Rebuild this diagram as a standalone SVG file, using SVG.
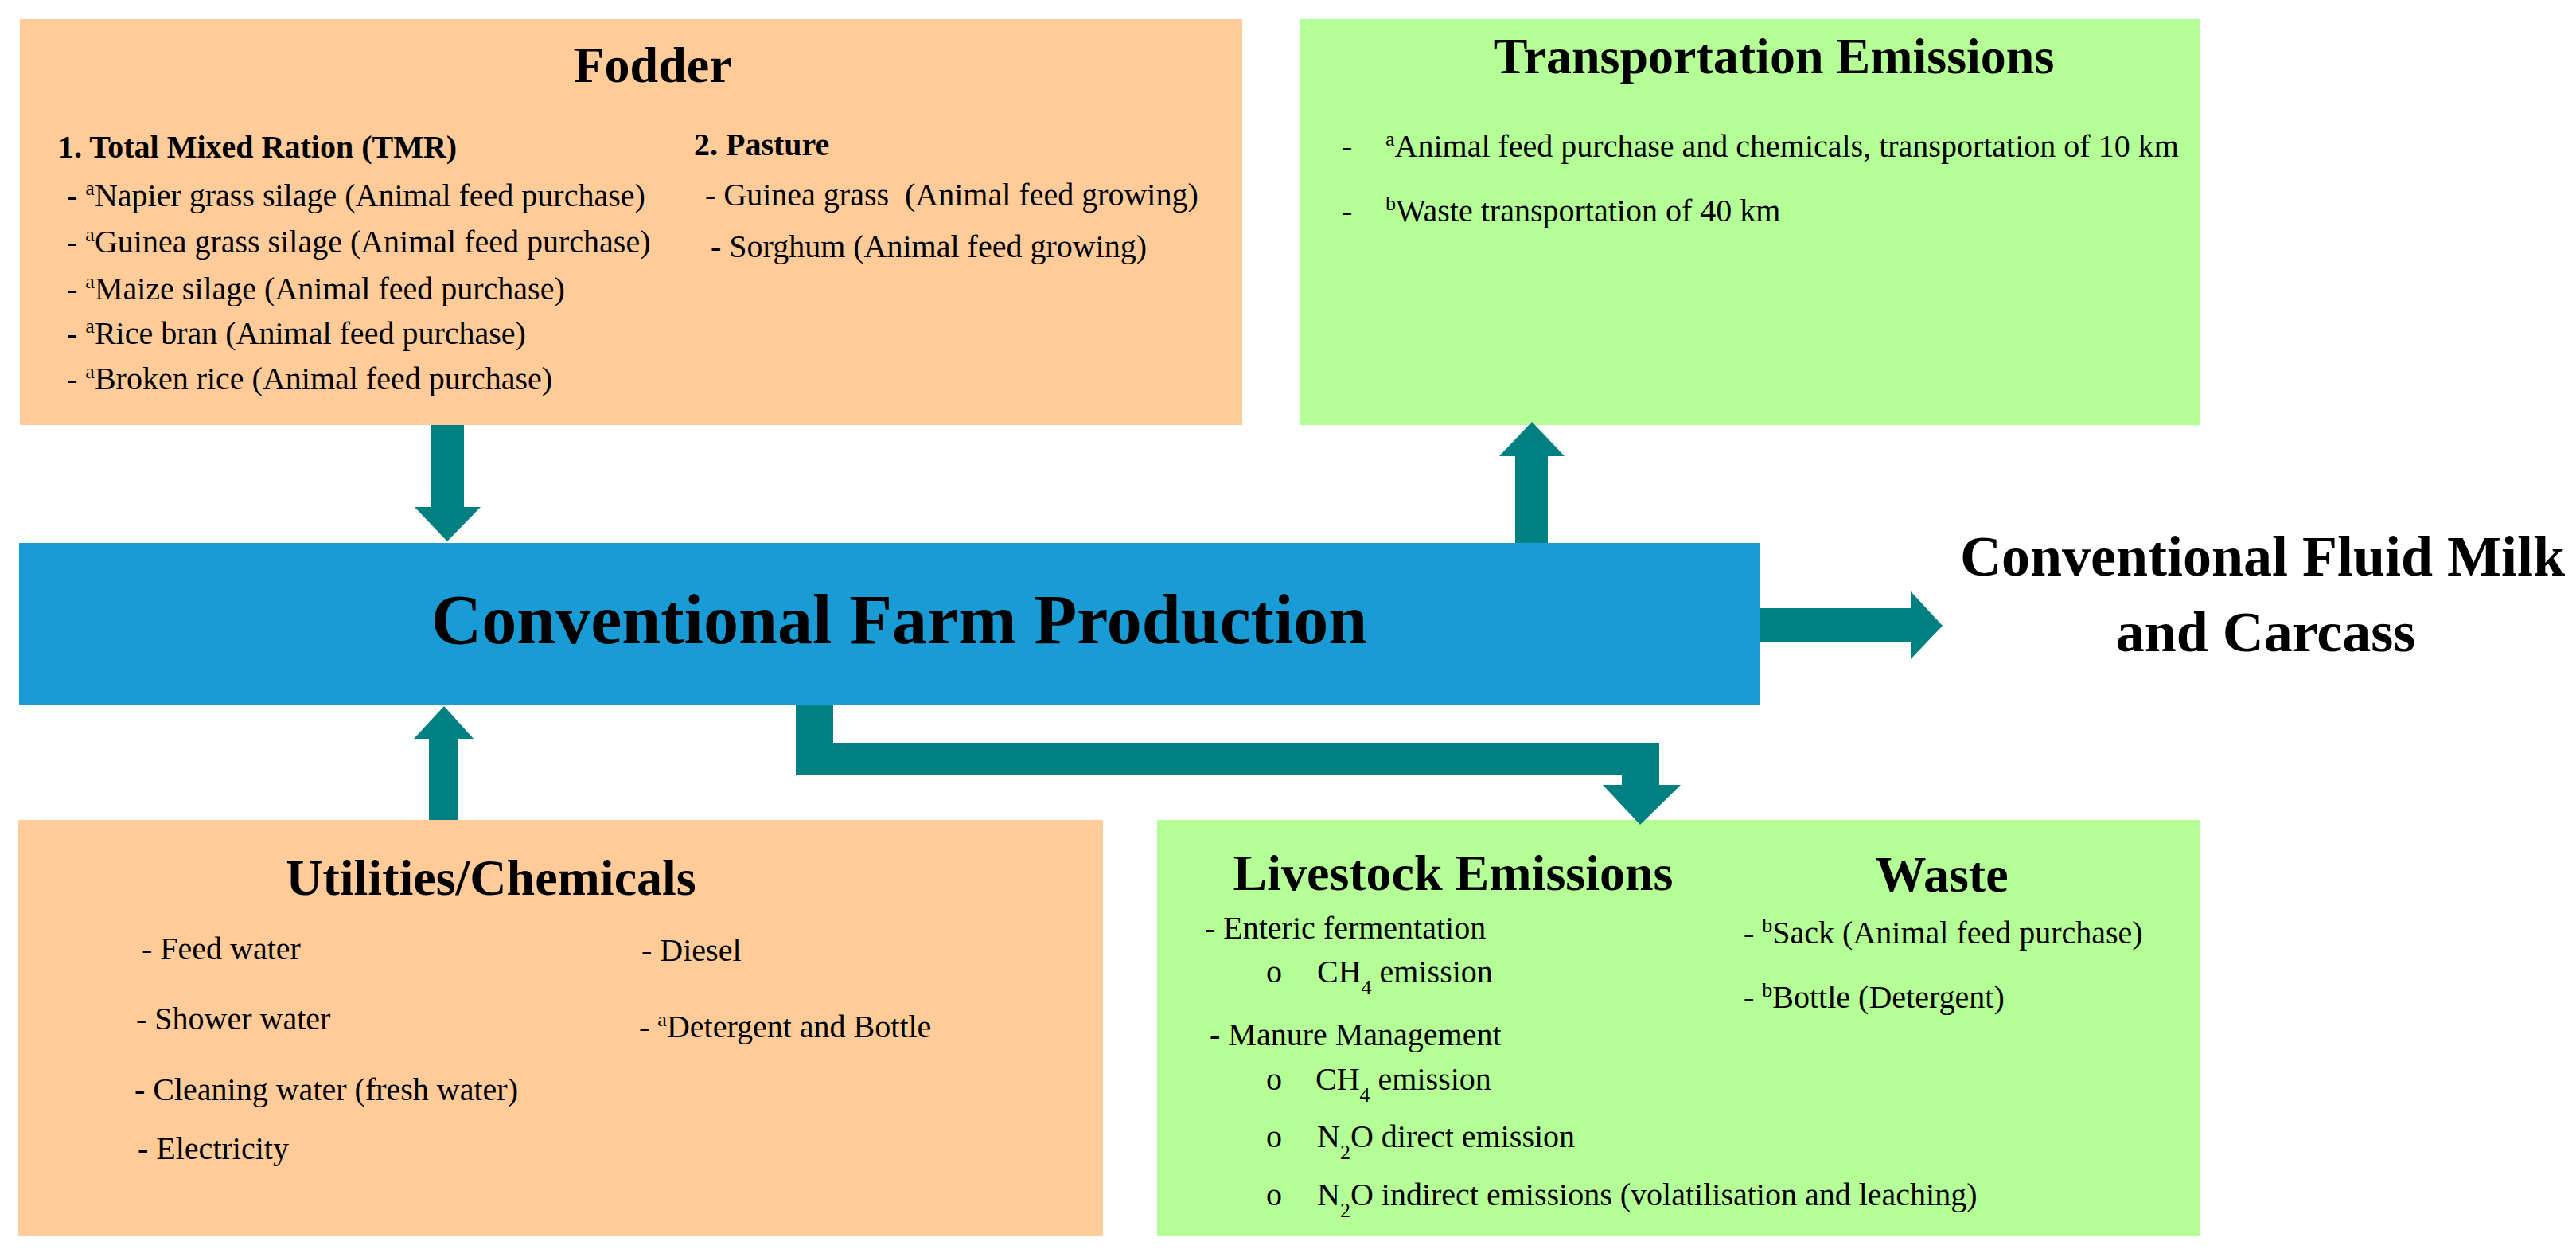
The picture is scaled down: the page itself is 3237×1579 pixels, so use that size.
<svg xmlns="http://www.w3.org/2000/svg" width="3237" height="1579" viewBox="0 0 3237 1579">
<style>
text{font-family:"Liberation Serif","Times New Roman",serif;fill:#000}
.t{font-weight:bold;font-size:64px;text-anchor:middle}
.h{font-weight:bold;font-size:40px}
.i{font-size:40px}
.orange{fill:#FFCC99}
.green{fill:#B4FF96}
.arr{fill:#008080}
</style>
<rect width="3237" height="1579" fill="#fff"/>
<g id="fodder">
<rect class="orange" x="25" y="24" width="1536" height="510"/>
<text class="t" x="820" y="103">Fodder</text>
<text class="h" x="73" y="198">1. Total Mixed Ration (TMR)</text>
<text class="i" x="84" y="259">- <tspan font-size="26" baseline-shift="super">a</tspan>Napier grass silage (Animal feed purchase)</text>
<text class="i" x="84" y="317">- <tspan font-size="26" baseline-shift="super">a</tspan>Guinea grass silage (Animal feed purchase)</text>
<text class="i" x="84" y="376">- <tspan font-size="26" baseline-shift="super">a</tspan>Maize silage (Animal feed purchase)</text>
<text class="i" x="84" y="432">- <tspan font-size="26" baseline-shift="super">a</tspan>Rice bran (Animal feed purchase)</text>
<text class="i" x="84" y="489">- <tspan font-size="26" baseline-shift="super">a</tspan>Broken rice (Animal feed purchase)</text>
<text class="h" x="872" y="195">2. Pasture</text>
<text class="i" x="886" y="258" xml:space="preserve">- Guinea grass  (Animal feed growing)</text>
<text class="i" x="893" y="323">- Sorghum (Animal feed growing)</text>
</g>
<g id="transportation">
<rect class="green" x="1634" y="24" width="1130" height="510"/>
<text class="t" x="2229" y="92">Transportation Emissions</text>
<text class="i" x="1686" y="197">-</text>
<text class="i" x="1741" y="197"><tspan font-size="26" baseline-shift="super">a</tspan>Animal feed purchase and chemicals, transportation of 10 km</text>
<text class="i" x="1686" y="278">-</text>
<text class="i" x="1741" y="278"><tspan font-size="26" baseline-shift="super">b</tspan>Waste transportation of 40 km</text>
</g>
<g id="production">
<rect fill="#199CD6" x="24" y="682" width="2187" height="204"/>
<text x="1130" y="808" font-weight="bold" font-size="88" text-anchor="middle">Conventional Farm Production</text>
</g>
<g id="output">
<text x="2843" y="723" font-weight="bold" font-size="72" text-anchor="middle">Conventional Fluid Milk</text>
<text x="2847" y="818" font-weight="bold" font-size="72" text-anchor="middle">and Carcass</text>
</g>
<g id="utilities">
<rect class="orange" x="23" y="1030" width="1363" height="522"/>
<text class="t" x="617" y="1124" font-size="62">Utilities/Chemicals</text>
<text class="i" x="178" y="1205">- Feed water</text>
<text class="i" x="171" y="1293">- Shower water</text>
<text class="i" x="169" y="1382">- Cleaning water (fresh water)</text>
<text class="i" x="173" y="1456">- Electricity</text>
<text class="i" x="806" y="1207">- Diesel</text>
<text class="i" x="803" y="1303">- <tspan font-size="26" baseline-shift="super">a</tspan>Detergent and Bottle</text>
</g>
<g id="livestock-waste">
<rect class="green" x="1454" y="1030" width="1311" height="522"/>
<text class="t" x="1826" y="1118">Livestock Emissions</text>
<text class="t" x="2440" y="1120">Waste</text>
<text class="i" x="1514" y="1179">- Enteric fermentation</text>
<text class="i" x="1591" y="1234">o</text>
<text class="i" x="1655" y="1234">CH<tspan font-size="26" baseline-shift="sub">4</tspan> emission</text>
<text class="i" x="1520" y="1313">- Manure Management</text>
<text class="i" x="1591" y="1369">o</text>
<text class="i" x="1653" y="1369">CH<tspan font-size="26" baseline-shift="sub">4</tspan> emission</text>
<text class="i" x="1591" y="1441">o</text>
<text class="i" x="1655" y="1441">N<tspan font-size="26" baseline-shift="sub">2</tspan>O direct emission</text>
<text class="i" x="1591" y="1514">o</text>
<text class="i" x="1655" y="1514">N<tspan font-size="26" baseline-shift="sub">2</tspan>O indirect emissions (volatilisation and leaching)</text>
<text class="i" x="2191" y="1185">- <tspan font-size="26" baseline-shift="super">b</tspan>Sack (Animal feed purchase)</text>
<text class="i" x="2191" y="1266">- <tspan font-size="26" baseline-shift="super">b</tspan>Bottle (Detergent)</text>
</g>
<g id="connectors">
<polygon class="arr" points="541,534 583,534 583,637 604,637 562,680 521,637 541,637"/>
<polygon class="arr" points="539,1030 539,928 520,928 558,887 595,928 576,928 576,1030"/>
<polygon class="arr" points="1904,682 1904,573 1884,573 1925,530 1966,573 1945,573 1945,682"/>
<polygon class="arr" points="2211,764 2401,764 2401,743 2441,786 2401,828 2401,807 2211,807"/>
<polygon class="arr" points="1000,886 1047,886 1047,933 2085,933 2085,986 2112,986 2061,1036 2014,986 2038,986 2038,974 1000,974"/>
</g>
</svg>
